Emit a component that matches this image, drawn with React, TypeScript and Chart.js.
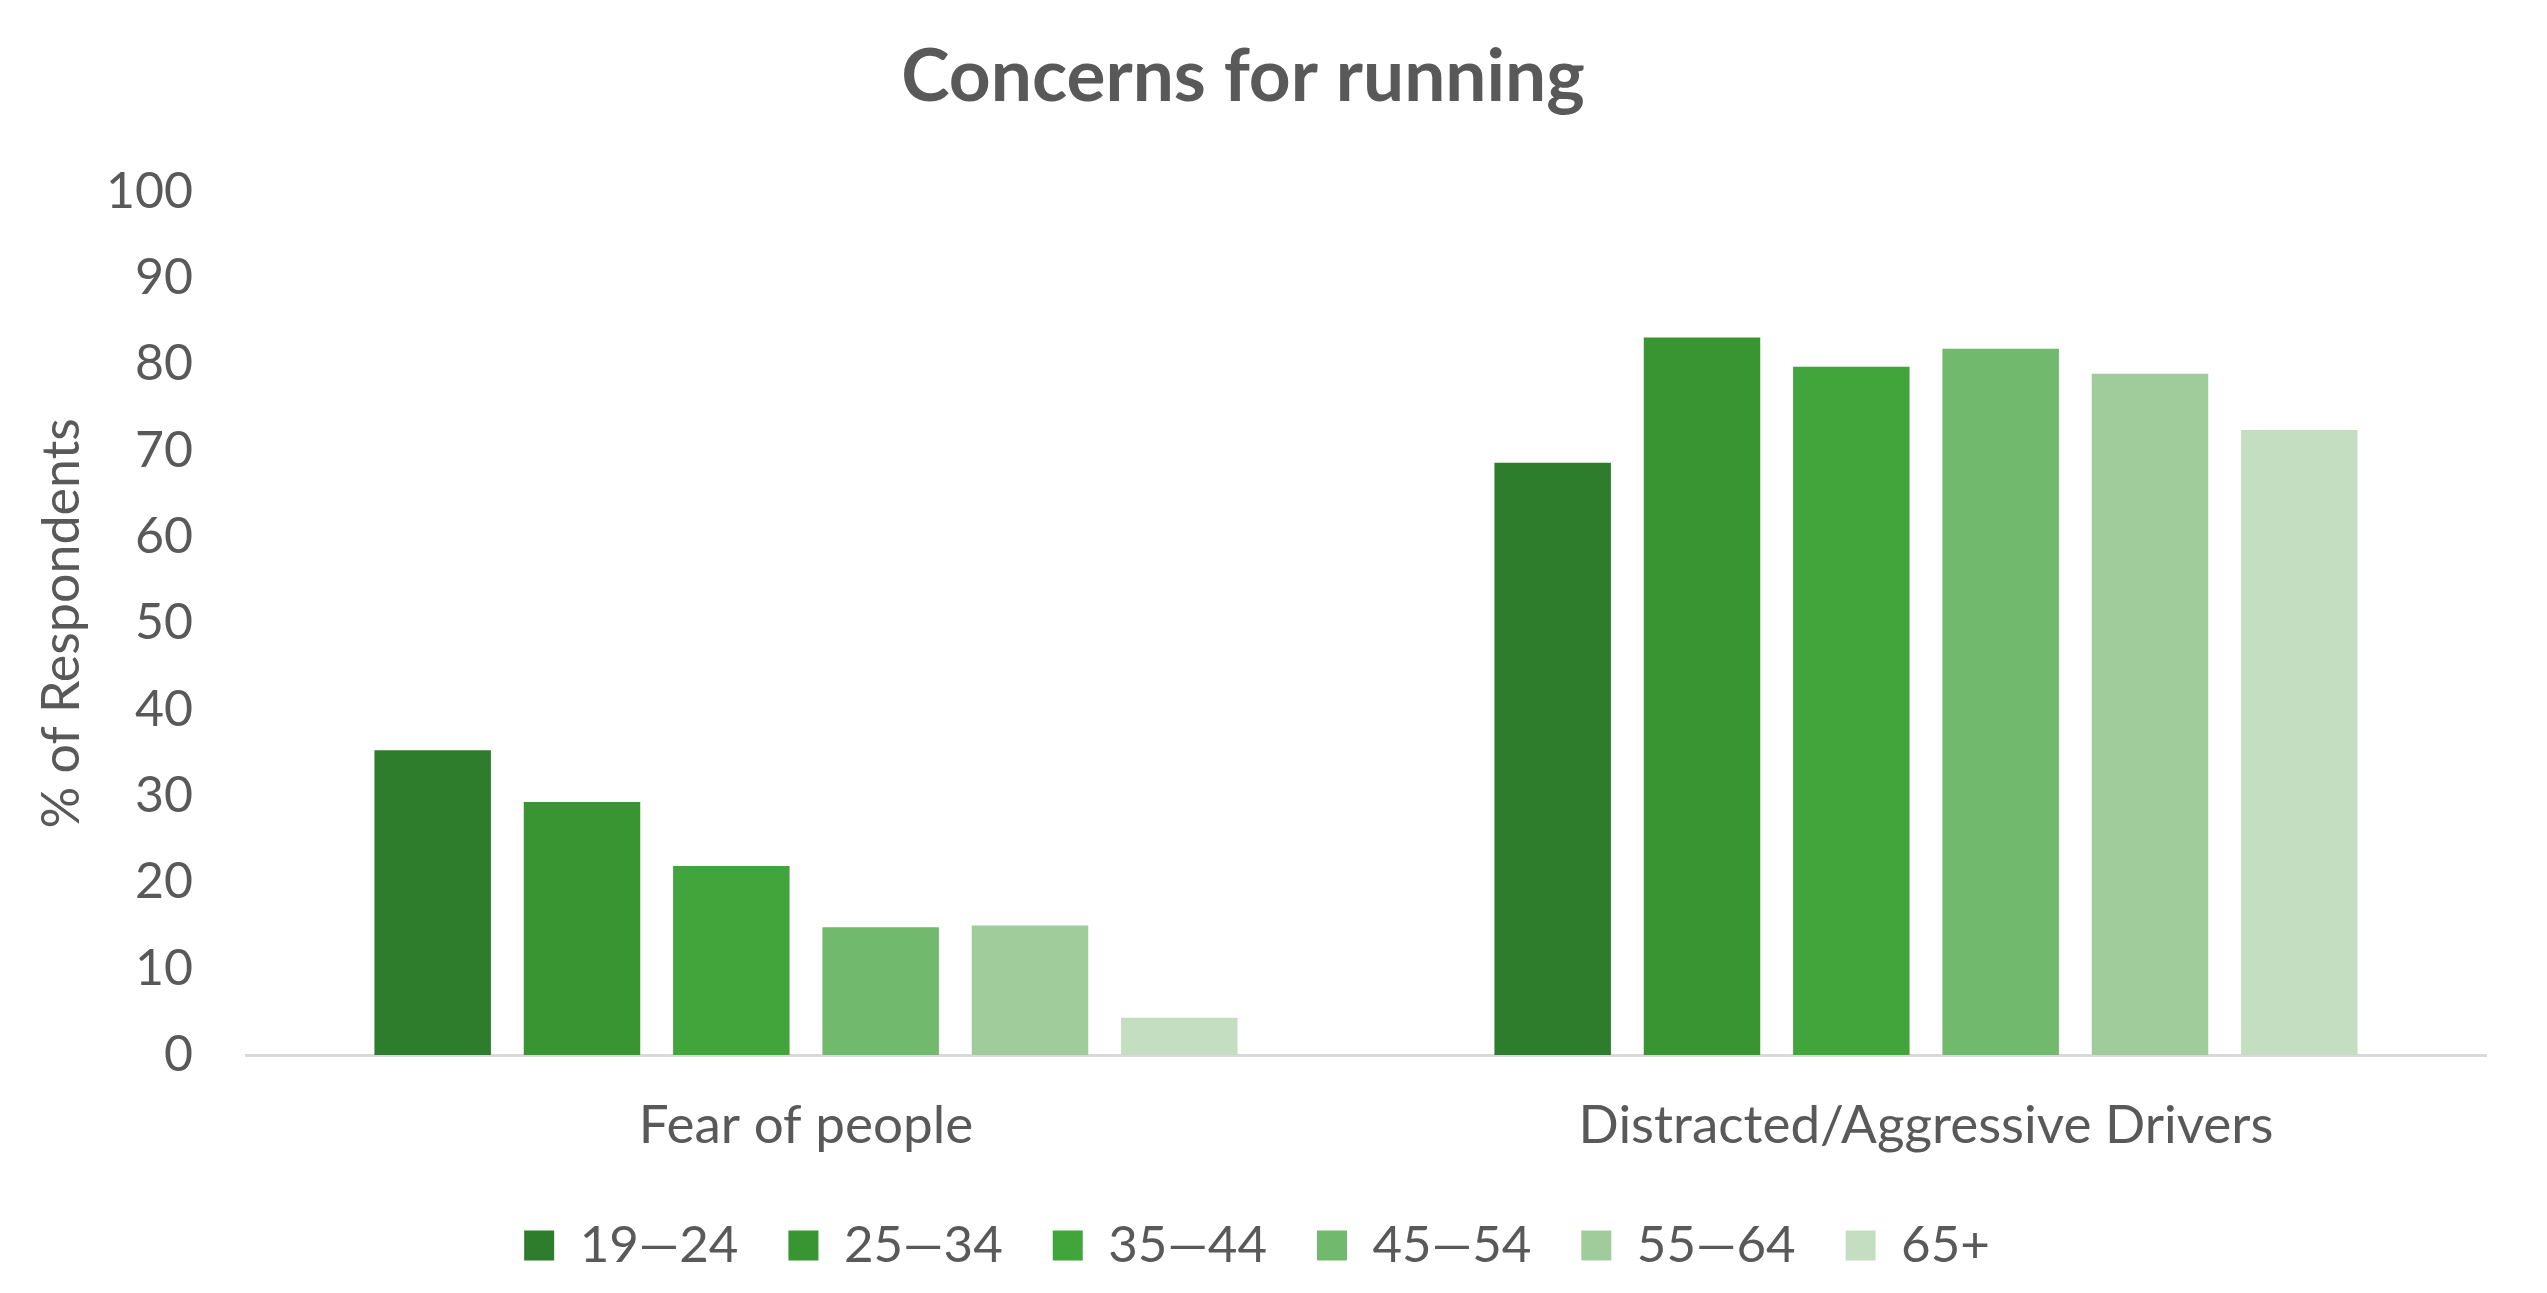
import { useEffect, useRef } from "react";
import Chart from "chart.js/auto";

const categories = ["Fear of people", "Distracted/Aggressive Drivers"];
const ageGroups = ["19\u201424", "25\u201434", "35\u201444", "45\u201454", "55\u201464", "65+"];
const age19to24 = [35.3, 68.6];
const age25to34 = [29.3, 83.1];
const age35to44 = [21.9, 79.7];
const age45to54 = [14.8, 81.8];
const age55to64 = [15.0, 78.9];
const age65plus = [4.3, 72.4];
const seriesValues = [age19to24, age25to34, age35to44, age45to54, age55to64, age65plus];
const colors = ["#2E7D2D", "#399532", "#41A53B", "#71B96C", "#A0CC9C", "#C4DEC1"];

const FONT = "Lato, 'Noto Sans', sans-serif";
const TEXT = "#595959";

// nudges the legend row a little to the right, like the original
const legendShift = {
  id: "legendShift",
  afterLayout(chart: any) {
    if (chart.legend) {
      chart.legend.left += 14;
      chart.legend.right += 14;
    }
  },
};

export default function App() {
  const chartRef = useRef<HTMLCanvasElement>(null);

  useEffect(() => {
    if (!chartRef.current) return;

    const chart = new Chart(chartRef.current, {
      type: "bar",
      data: {
        labels: categories,
        datasets: ageGroups.map((g, i) => ({
          label: g,
          data: seriesValues[i],
          backgroundColor: colors[i],
          borderWidth: 0,
          barPercentage: 0.78,
          categoryPercentage: 0.8,
        })),
      },
      options: {
        responsive: true,
        maintainAspectRatio: false,
        animation: false,
        layout: { padding: { top: 0, left: 0, right: 10, bottom: 12 } },
        plugins: {
          title: {
            display: true,
            text: "Concerns for running",
            color: TEXT,
            font: { family: FONT, size: 73, weight: "bold" },
            padding: { top: 34, bottom: 70 },
          },
          legend: {
            position: "bottom",
            labels: {
              color: TEXT,
              font: { family: FONT, size: 51 },
              boxWidth: 30,
              boxHeight: 30,
              padding: 50,
            },
          },
          tooltip: { enabled: false },
        },
        scales: {
          x: {
            grid: { display: false, drawTicks: false },
            border: { display: true, color: "#D9D9D9", width: 3 },
            ticks: { color: TEXT, font: { family: FONT, size: 53 }, padding: 39 },
            afterFit: (scale: any) => {
              scale.height = 115;
            },
          },
          y: {
            min: 0,
            max: 100,
            grid: { display: false, drawTicks: false },
            border: { display: false },
            ticks: { stepSize: 10, color: TEXT, font: { family: FONT, size: 50 }, padding: 53 },
            title: {
              display: true,
              text: "% of Respondents",
              color: TEXT,
              font: { family: FONT, size: 52 },
              padding: { top: 31, bottom: 0 },
            },
            afterFit: (scale: any) => {
              scale.width = 246;
            },
          },
        },
      },
      plugins: [legendShift],
    });

    return () => chart.destroy();
  }, []);

  return (
    <div style={{ position: "absolute", left: 0, top: 0, width: 2496, height: 1293, background: "#fff" }}>
      <canvas ref={chartRef} />
    </div>
  );
}
